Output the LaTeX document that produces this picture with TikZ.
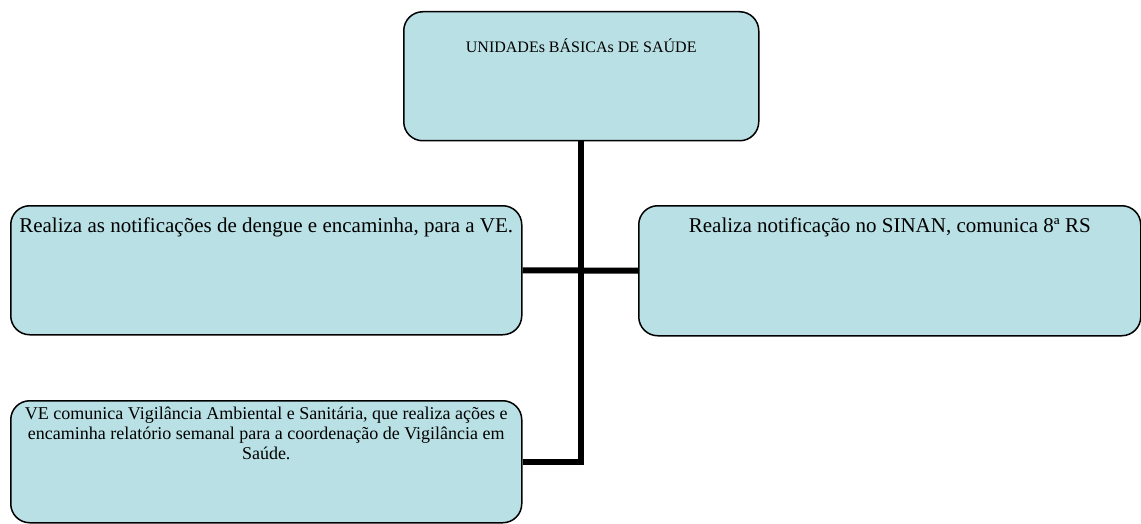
\documentclass[tikz,border=0pt]{standalone}
\usepackage{fontspec}
\setmainfont{Liberation Serif}
\definecolor{boxfill}{RGB}{185,224,228}

\begin{document}
\begin{tikzpicture}[x=1pt,y=-1pt,
        box/.style={draw=black, line width=1.5pt, fill=boxfill, rounded corners=19pt,
                inner sep=0pt, anchor=north west},
        conn/.style={line width=6pt}]
        \useasboundingbox (0,0) rectangle (1141,524);
        \node (ubs) [box] at (403,11) {\parbox[c][129pt][t]{355pt}{\centering\vspace*{27pt}%
                \fontsize{16}{18}\selectfont UNIDADEs BÁSICAs DE SAÚDE}};
        \node (notif) [box] at (10,205) {\parbox[c][129pt][t]{511pt}{\centering\vspace*{12pt}%
                \fontsize{21}{23}\selectfont Realiza as notificações de dengue e encaminha, para a VE.}};
        \node (sinan) [box] at (638,205) {\parbox[c][130pt][t]{502pt}{\centering\vspace*{12pt}%
                \fontsize{21}{23}\selectfont Realiza notificação no SINAN, comunica 8ª RS}};
        \node (ve) [box] at (10,400) {\parbox[c][122pt][t]{511pt}{\centering\vspace*{6pt}%
                \fontsize{18}{20}\selectfont VE comunica Vigilância Ambiental e Sanitária, que realiza ações e
                encaminha relatório semanal para a coordenação de Vigilância em Saúde.}};
        \draw[conn] (ubs.south) |- (ve.east);
        \draw[conn] (notif.east) -- (sinan.west);
\end{tikzpicture}
\end{document}
